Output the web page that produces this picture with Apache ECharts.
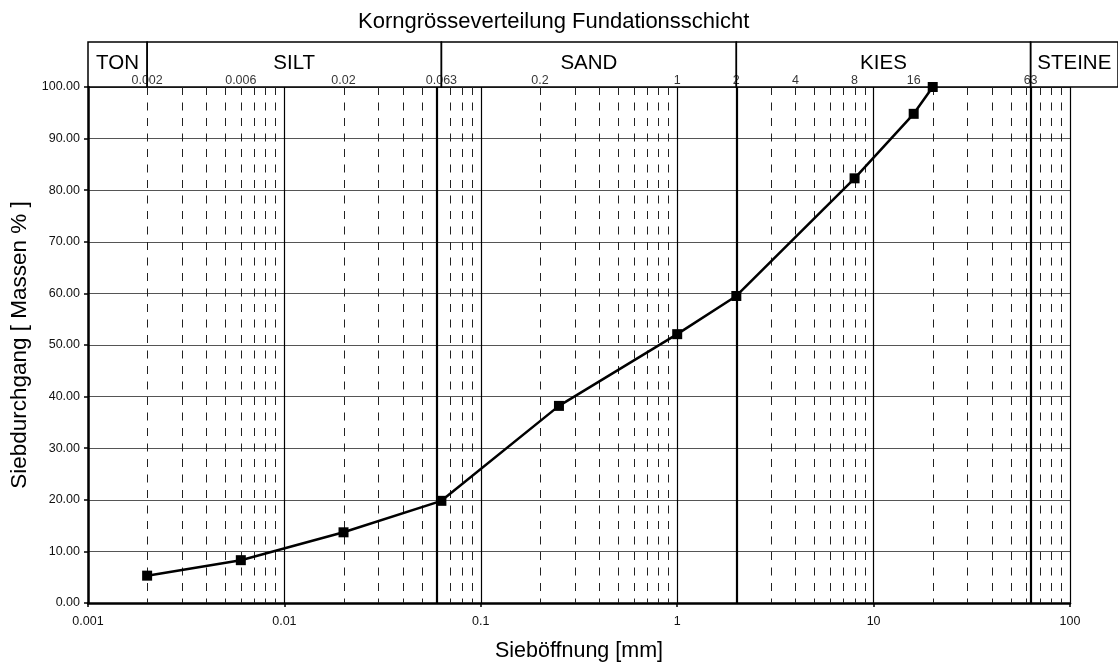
<!DOCTYPE html>
<html><head><meta charset="utf-8">
<script src="https://cdn.jsdelivr.net/npm/echarts@6/dist/echarts.min.js"></script>
<style>html,body{margin:0;padding:0;background:#fff}#c{width:1118px;height:663px}</style>
</head><body><div id="c"></div>
<script>
// ---- data ----
const sieveSizes = [0.002, 0.006, 0.02, 0.063, 0.25, 1, 2, 8, 16, 20];
const passing    = [5.3, 8.3, 13.7, 19.8, 38.2, 52.1, 59.5, 82.3, 94.8, 100];
const xTickLabels = ['0.001', '0.01', '0.1', '1', '10', '100'];
const zoneNames  = ['TON', 'SILT', 'SAND', 'KIES', 'STEINE'];
const zoneBounds = [0.002, 0.063, 2, 63];
const headerTickValues = [0.002, 0.006, 0.02, 0.063, 0.2, 1, 2, 4, 8, 16, 63];
const headerTickLabels = ['0.002', '0.006', '0.02', '0.063', '0.2', '1', '2', '4', '8', '16', '63'];
const decadeStarts = [0.001, 0.01, 0.1, 1, 10];
const minorMultipliers = [2, 3, 4, 5, 6, 7, 8, 9];

// ---- layout helpers ----
const FONT = "'Liberation Sans', Arial, sans-serif";
const plotLeft = 88, plotWidth = 982, headerWidth = 1030;
const headerMax = Math.pow(10, -3 + 5 * headerWidth / plotWidth);
const minorValues = [];
decadeStarts.forEach(d => minorMultipliers.forEach(m => minorValues.push(+(m * d).toPrecision(6))));
const zoneEdges = [0.001].concat(zoneBounds, [headerMax]);

const chart = echarts.init(document.getElementById('c'), null, {renderer: 'canvas'});
chart.setOption({
  animation: false,
  backgroundColor: '#fff',
  textStyle: {fontFamily: FONT},
  title: {
    text: 'Korngrösseverteilung Fundationsschicht',
    left: 353, top: 6,
    textStyle: {fontFamily: FONT, fontSize: 22, fontWeight: 'normal', color: '#000'}
  },
  grid: [
    {left: plotLeft, top: 87, width: plotWidth, height: 516, containLabel: false, outerBoundsMode: 'none'},
    {left: plotLeft, top: 42, width: headerWidth, height: 45, containLabel: false, outerBoundsMode: 'none'}
  ],
  xAxis: [
    {
      type: 'log', logBase: 10, min: 0.001, max: 100, gridIndex: 0,
      name: 'Sieböffnung [mm]', nameLocation: 'middle', nameGap: 37,
      nameTextStyle: {fontFamily: FONT, fontSize: 21.5, color: '#000'},
      axisLine: {show: true, onZero: false, lineStyle: {color: '#000', width: 2.5}},
      axisTick: {show: true, inside: false, length: 4, lineStyle: {color: '#000', width: 1.5}},
      axisLabel: {
        fontSize: 12.5, color: '#111', margin: 12, fontFamily: FONT,
        formatter: v => xTickLabels[Math.round(Math.log10(v)) + 3] || ''
      },
      splitLine: {show: true, lineStyle: {color: '#000', width: 1.2}},
      minorTick: {show: false}, minorSplitLine: {show: false}
    },
    {
      type: 'log', logBase: 10, min: 0.001, max: headerMax, gridIndex: 1, show: false
    }
  ],
  yAxis: [
    {
      type: 'value', min: 0, max: 100, interval: 10, gridIndex: 0,
      name: 'Siebdurchgang [ Massen % ]', nameLocation: 'middle', nameGap: 47,
      nameTextStyle: {fontFamily: FONT, fontSize: 22.5, color: '#000'},
      axisLine: {show: true, lineStyle: {color: '#000', width: 2.5}},
      axisTick: {show: true, inside: false, length: 4, lineStyle: {color: '#000', width: 1.5}},
      axisLabel: {fontSize: 12.5, color: '#111', margin: 8, fontFamily: FONT, formatter: v => v.toFixed(2)},
      splitLine: {show: true, lineStyle: {color: '#555', width: 1}}
    },
    {type: 'value', min: 0, max: 1, gridIndex: 1, show: false}
  ],
  series: [
    {
      // minor dashed grid lines (2..9 of each decade)
      type: 'custom', xAxisIndex: 0, yAxisIndex: 0, silent: true, z: 1,
      data: minorValues.map(v => [v, 0]),
      encode: {x: 0, y: 1},
      renderItem: (params, api) => {
        const v = api.value(0);
        const p0 = api.coord([v, 0]), p1 = api.coord([v, 100]);
        const x = Math.round(p0[0]) + 0.5;
        return {
          type: 'line',
          shape: {x1: x, y1: p1[1], x2: x, y2: p0[1]},
          style: {stroke: '#222', lineWidth: 1, lineDash: [8, 7.5], fill: null}
        };
      }
    },
    {
      // soil class boundaries
      type: 'line', xAxisIndex: 0, yAxisIndex: 0, data: [], silent: true, z: 2,
      markLine: {
        silent: true, symbol: ['none', 'none'], animation: false,
        label: {show: false},
        lineStyle: {color: '#000', width: 2.2, type: 'solid'},
        data: zoneBounds.map(v => ({xAxis: v}))
      }
    },
    {
      // header zones
      type: 'line', xAxisIndex: 1, yAxisIndex: 1, data: [], silent: true, z: 3,
      markArea: {
        silent: true, animation: false,
        itemStyle: {color: 'rgba(0,0,0,0)', borderColor: '#000', borderWidth: 1.5},
        label: {show: true, position: 'inside', fontFamily: FONT, fontSize: 20.5, color: '#000', offset: [0, -1]},
        data: zoneNames.map((n, i) => [{name: n, xAxis: zoneEdges[i]}, {xAxis: zoneEdges[i + 1]}])
      }
    },
    {
      // header size labels
      type: 'scatter', xAxisIndex: 1, yAxisIndex: 1, silent: true, z: 4,
      symbolSize: 0,
      label: {show: true, position: 'top', distance: 0, formatter: '{b}', fontFamily: FONT, fontSize: 12.5, color: '#000'},
      data: headerTickValues.map((v, i) => ({name: headerTickLabels[i], value: [v, 0]}))
    },
    {
      type: 'line', xAxisIndex: 0, yAxisIndex: 0, z: 5,
      data: sieveSizes.map((s, i) => [s, passing[i]]),
      symbol: 'rect', symbolSize: 10,
      itemStyle: {color: '#000'},
      lineStyle: {color: '#000', width: 2.5},
      clip: false
    }
  ]
});
</script>
</body></html>
